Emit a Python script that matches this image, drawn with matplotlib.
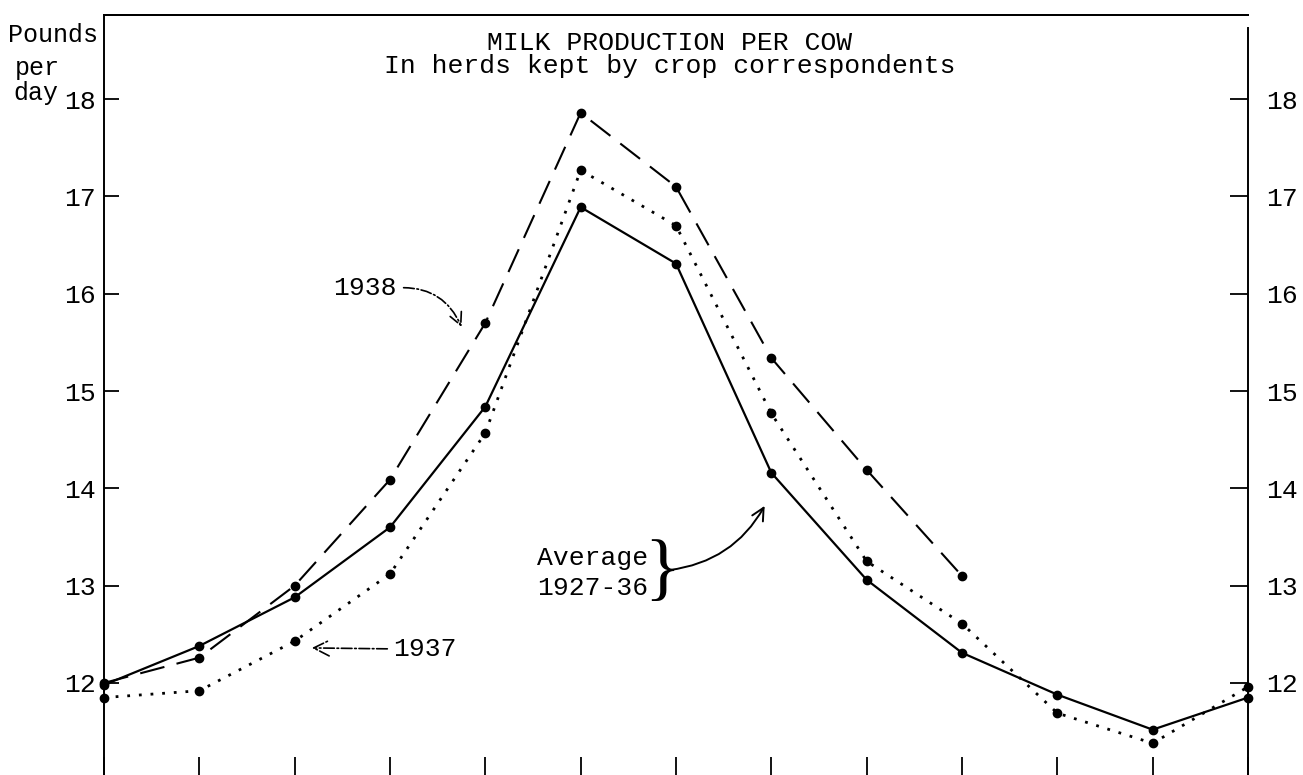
import matplotlib
matplotlib.use("Agg")
import matplotlib.pyplot as plt
import numpy as np

# monthly positions, Jan .. Dec and the following Jan
months = ["Jan", "Feb", "Mar", "Apr", "May", "Jun", "Jul",
          "Aug", "Sep", "Oct", "Nov", "Dec", "Jan"]
x = np.arange(len(months))

average = [11.98, 12.38, 12.88, 13.60, 14.84, 16.89, 16.31,
           14.16, 13.06, 12.31, 11.88, 11.52, 11.85]
y1937 = [11.85, 11.92, 12.43, 13.12, 14.57, 17.27, 16.70,
         14.77, 13.25, 12.61, 11.69, 11.38, 11.96]
y1938 = [12.00, 12.26, 13.00, 14.09, 15.70, 17.86, 17.10,
         15.34, 14.19, 13.10]
yticks = [12, 13, 14, 15, 16, 17, 18]

plt.rcParams['font.family'] = ['Liberation Mono', 'DejaVu Sans Mono']
FS = 19
ylo, yhi = 11.054, 18.865

fig = plt.figure(figsize=(13.03, 7.75), dpi=100)
ax = fig.add_axes([104/1303, 0.0, 1144/1303, 1 - 15/775])

ax.plot(x, average, color='black', lw=1.6, marker='o', ms=6, clip_on=False)
ax.plot(x, y1937, color='black', lw=2.0, ls=(0, (1, 3.2)), marker='o', ms=6,
        clip_on=False)
ax.plot(x[:len(y1938)], y1938, color='black', lw=1.5, ls=(0, (12, 6)),
        marker='o', ms=6, clip_on=False)

ax.set_xlim(0, 12)
ax.set_ylim(ylo, yhi)

ax.set_xticks(x)
ax.set_xticklabels([])
ax.set_yticks(yticks)
ax.set_yticklabels([str(v) for v in yticks], fontsize=FS)
ax.tick_params(axis='x', direction='in', length=13, width=1.3)
ax.tick_params(axis='y', direction='in', length=11, width=1.3, pad=6)

# right hand scale
ax2 = ax.twinx()
ax2.set_ylim(ylo, yhi)
ax2.set_yticks(yticks)
ax2.set_yticklabels([str(v) for v in yticks], fontsize=FS)
ax2.tick_params(axis='y', direction='in', length=13, width=1.3, pad=13)

for a in (ax, ax2):
    a.spines['bottom'].set_visible(False)
    for s in ('left', 'right', 'top'):
        a.spines[s].set_linewidth(1.4)
ax.spines['right'].set_visible(False)
ax2.spines['left'].set_visible(False)
ax2.spines['right'].set_bounds(ylo, 18.73)

# titles
fig.text(0.514, 1 - 43/775, "MILK PRODUCTION PER COW", ha='center',
         va='center', fontsize=FS)
fig.text(0.514, 1 - 66/775, "In herds kept by crop correspondents",
         ha='center', va='center', fontsize=FS)

# y-axis caption
fig.text(8/1303, 1 - 35/775, "Pounds", ha='left', va='center', fontsize=FS - 1)
fig.text(15/1303, 1 - 68/775, "per", ha='left', va='center', fontsize=FS - 1)
fig.text(13/1303, 1 - 93/775, "day", ha='left', va='center', fontsize=FS - 1)

# annotations
ax.annotate("1938", xy=(x[4] - 0.25, y1938[4] - 0.04), xytext=(3.07, 16.06),
            ha='right', va='center', fontsize=FS,
            arrowprops=dict(arrowstyle='->', color='black', lw=1.2,
                            linestyle='-.', shrinkA=3, shrinkB=0,
                            relpos=(1, 0.5),
                            connectionstyle='arc3,rad=-0.35',
                            mutation_scale=22))
ax.annotate("1937", xy=(x[2] + 0.18, y1937[2] - 0.07), xytext=(3.03, 12.35),
            ha='left', va='center', fontsize=FS,
            arrowprops=dict(arrowstyle='->', color='black', lw=1.2,
                            linestyle='-.', shrinkA=2, shrinkB=0,
                            relpos=(0, 0.5), mutation_scale=28))
ax.text(4.54, 13.13, "Average\n1927-36", ha='left', va='center',
        fontsize=FS, linespacing=1.3)
ax.text(5.86, 13.13, "}", ha='center', va='center', fontsize=54,
        family='Liberation Serif', fontweight='light')
ax.annotate("", xy=(6.93, 13.82), xytext=(5.93, 13.16),
            arrowprops=dict(arrowstyle='->', color='black', lw=1.4,
                            shrinkA=0, shrinkB=0,
                            connectionstyle='arc3,rad=0.25',
                            mutation_scale=22))

fig.savefig("out.png", dpi=100)
